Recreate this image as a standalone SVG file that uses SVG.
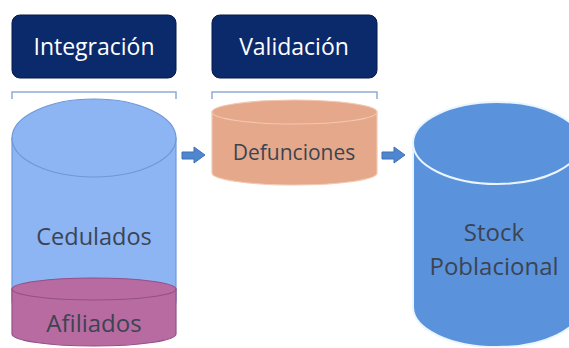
<svg xmlns="http://www.w3.org/2000/svg" width="569" height="348" viewBox="0 0 569 348">
<style>
.hdr{fill:#0b2a6b;stroke:#06184a;stroke-width:1}
.hdrt{fill:#ffffff;font-family:"Open Sans","Noto Sans",sans-serif;font-size:23px;text-anchor:middle}
.lbl{fill:#3b4452;font-family:"Open Sans","Noto Sans",sans-serif;text-anchor:middle}
.br{fill:none;stroke:#8eaadb;stroke-width:1.5}
.arr{fill:#4f86d0;stroke:#3e70b4;stroke-width:1}
</style>
<rect width="569" height="348" fill="#ffffff"/>
<g id="integracion">
<rect class="hdr" x="12" y="15" width="164" height="63" rx="8"/>
<text class="hdrt" x="94" y="55">Integración</text>
</g>
<g id="validacion">
<rect class="hdr" x="212" y="15" width="165" height="63" rx="8"/>
<text class="hdrt" x="294" y="55">Validación</text>
</g>
<g id="bracket1"><path class="br" d="M12,99 V92 H176 V99"/></g>
<g id="bracket2"><path class="br" d="M212,99 V92 H377 V99"/></g>
<g id="cedulados">
<path d="M12,138 V300 A82,39 0 0 0 176,300 V138 Z" fill="#8db4f3" stroke="#6f98d8" stroke-width="1.2"/>
<ellipse cx="94" cy="138" rx="82" ry="39" fill="#8db4f3" stroke="#6f98d8" stroke-width="1.2"/>
<text class="lbl" x="94" y="245" font-size="23.5">Cedulados</text>
</g>
<g id="afiliados">
<path d="M12,289 V334 A82,12 0 0 0 176,334 V289 Z" fill="#b86ba0" stroke="#93508a" stroke-width="1.2"/>
<ellipse cx="94" cy="289" rx="82" ry="11" fill="#b86ba0" stroke="#93508a" stroke-width="1.2"/>
<text class="lbl" x="94" y="332" font-size="24">Afiliados</text>
</g>
<g id="defunciones">
<path d="M212,112 V173 A82.5,12 0 0 0 377,173 V112 Z" fill="#e6a88a" stroke="#f2c8b3" stroke-width="1.2"/>
<ellipse cx="294.5" cy="112" rx="82.5" ry="12" fill="#e6a88a" stroke="#f2c8b3" stroke-width="1.2"/>
<text class="lbl" x="294" y="160" font-size="21">Defunciones</text>
</g>
<g id="stock">
<path d="M413,143 V307 A84,40 0 0 0 581,307 V143 Z" fill="#5b92dc" stroke="#eaf6ff" stroke-width="2"/>
<ellipse cx="497" cy="143" rx="84" ry="41" fill="#5b92dc" stroke="#eaf6ff" stroke-width="2"/>
<text class="lbl" x="494" y="241" font-size="24">Stock</text>
<text class="lbl" x="494" y="275" font-size="24">Poblacional</text>
</g>
<g id="connectors">
<path class="arr" d="M182,152 H194 V147 L205,155 L194,163 V159 H182 Z"/>
<path class="arr" d="M382,152 H394 V147 L405,155 L394,163 V159 H382 Z"/>
</g>
</svg>
